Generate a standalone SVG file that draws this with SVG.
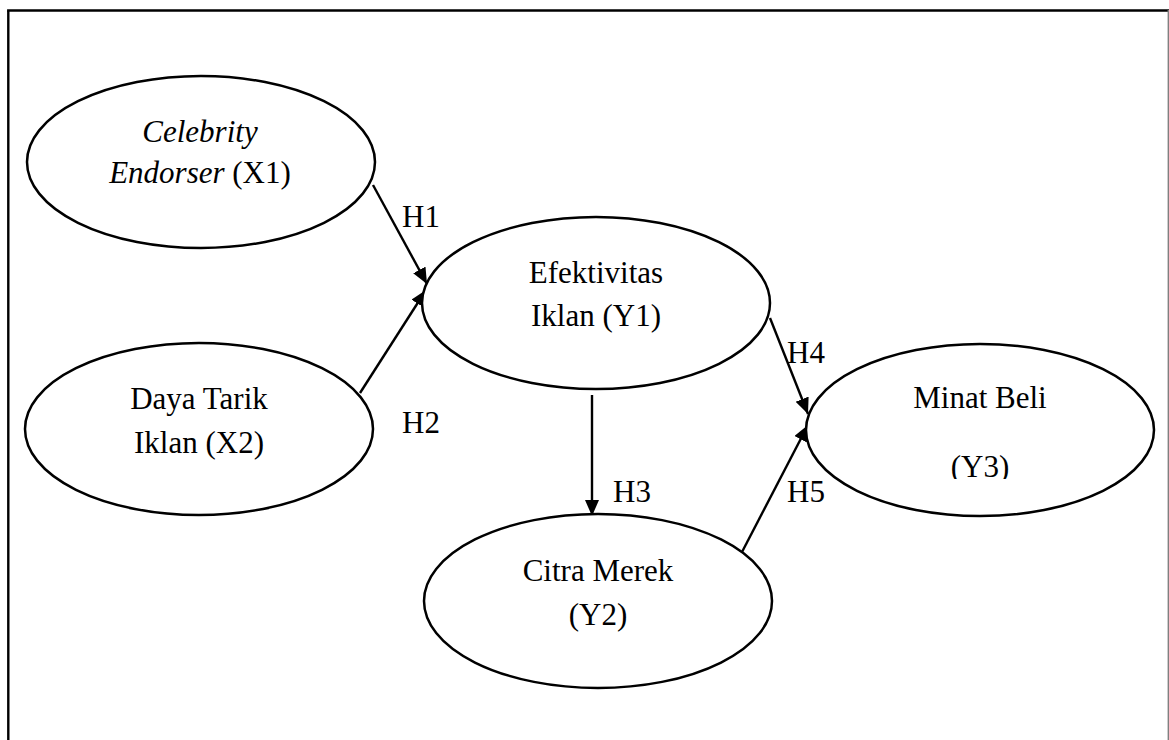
<svg xmlns="http://www.w3.org/2000/svg" width="1169" height="740" viewBox="0 0 1169 740">
<style>
  .node ellipse { fill: #fff; stroke: #000; stroke-width: 2.5; }
  .t { font-family: "Liberation Serif", "Times New Roman", serif; font-size: 31px; fill: #000; text-anchor: middle; }
  .lbl { font-family: "Liberation Serif", "Times New Roman", serif; font-size: 31px; fill: #000; }
  .edge { stroke: #000; stroke-width: 2.4; fill: none; marker-end: url(#arr); }
</style>
<defs>
  <marker id="arr" markerUnits="userSpaceOnUse" markerWidth="17" markerHeight="15" refX="16" refY="7" orient="auto">
    <path d="M0,0 L16,7 L0,14 z" fill="#000"/>
  </marker>
  <clipPath id="clipY3"><rect x="900" y="440" width="200" height="39"/></clipPath>
</defs>
<rect width="1169" height="740" fill="#fff"/>
<g id="frame">
  <line x1="8.3" y1="10.5" x2="8.3" y2="740" stroke="#000" stroke-width="2.4"/>
  <line x1="7.1" y1="10.5" x2="1169" y2="10.5" stroke="#000" stroke-width="2.4"/>
  <line x1="1168.5" y1="10" x2="1168.5" y2="740" stroke="#808080" stroke-width="1.8"/>
</g>
<g id="connectors">
  <line class="edge" x1="373" y1="185" x2="427" y2="284"/>
  <line class="edge" x1="360" y1="393" x2="426" y2="290"/>
  <line class="edge" x1="592" y1="395" x2="592" y2="516"/>
  <line class="edge" x1="770" y1="318" x2="808" y2="414"/>
  <line class="edge" x1="742" y1="552" x2="808" y2="425"/>
  <text class="lbl" x="402" y="227">H1</text>
  <text class="lbl" x="402" y="433">H2</text>
  <text class="lbl" x="613" y="502">H3</text>
  <text class="lbl" x="787" y="363">H4</text>
  <text class="lbl" x="787" y="502">H5</text>
</g>
<g id="x1" class="node">
  <ellipse cx="201" cy="162" rx="174" ry="86"/>
  <text class="t" x="200" y="142" font-style="italic">Celebrity</text>
  <text class="t" x="200" y="183"><tspan font-style="italic">Endorser</tspan> (X1)</text>
</g>
<g id="x2" class="node">
  <ellipse cx="199" cy="429" rx="174" ry="86"/>
  <text class="t" x="199" y="409">Daya Tarik</text>
  <text class="t" x="199" y="453">Iklan (X2)</text>
</g>
<g id="y1" class="node">
  <ellipse cx="596" cy="303" rx="174" ry="86"/>
  <text class="t" x="596" y="283">Efektivitas</text>
  <text class="t" x="596" y="326">Iklan (Y1)</text>
</g>
<g id="y2" class="node">
  <ellipse cx="598" cy="601" rx="174" ry="87"/>
  <text class="t" x="598" y="581">Citra Merek</text>
  <text class="t" x="598" y="625">(Y2)</text>
</g>
<g id="y3" class="node">
  <ellipse cx="980" cy="430" rx="174" ry="86"/>
  <text class="t" x="980" y="408">Minat Beli</text>
  <text class="t" x="980" y="477" clip-path="url(#clipY3)">(Y3)</text>
</g>
</svg>
